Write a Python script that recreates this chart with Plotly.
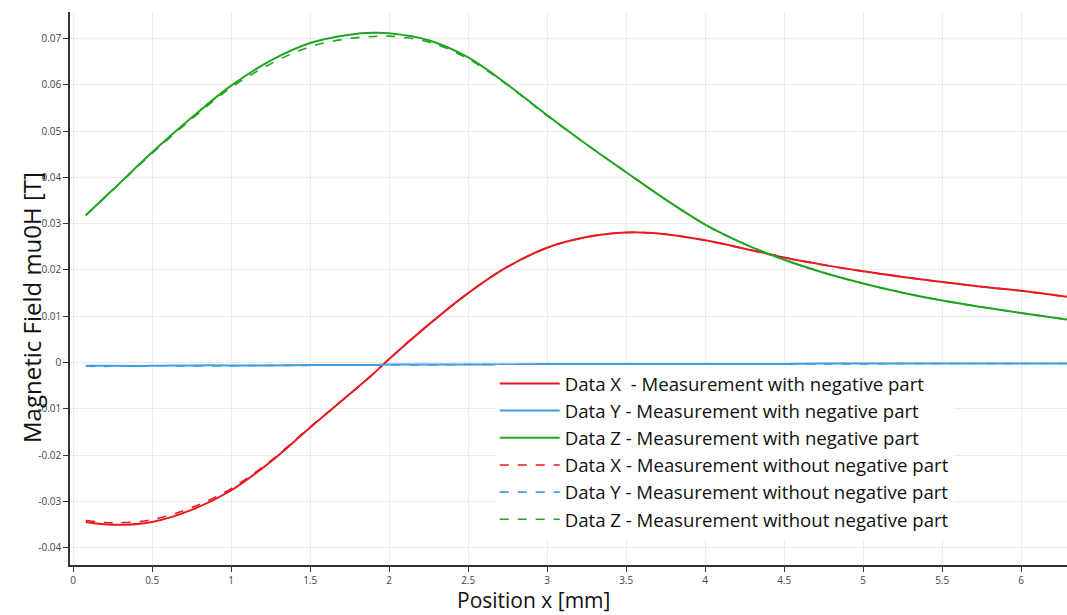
import plotly.graph_objects as go

# Position x [mm]
pos_x = [0.08, 0.25, 0.5, 0.75, 1.0, 1.25, 1.5, 1.75, 1.9, 2.0, 2.25, 2.5, 2.75,
         3.0, 3.25, 3.5, 3.75, 4.0, 4.25, 4.5, 4.75, 5.0, 5.25, 5.5, 5.75, 6.0, 6.29]

# Measurement with negative part
x_with = [-0.0344, -0.0350, -0.0344, -0.0318, -0.0276, -0.0214, -0.0140, -0.0068, -0.0024,
          0.0008, 0.0082, 0.0150, 0.0207, 0.0248, 0.0271, 0.0281, 0.0277, 0.0264,
          0.0246, 0.0227, 0.0211, 0.0197, 0.0185, 0.0174, 0.0164, 0.0155, 0.0142]
y_with = [-0.0007, -0.0007, -0.0007, -0.0006, -0.0006, -0.0006, -0.0005, -0.0005, -0.0005,
          -0.0004, -0.0004, -0.0004, -0.0004, -0.0003, -0.0003, -0.0003, -0.0003, -0.0003,
          -0.0003, -0.0003, -0.0002, -0.0002, -0.0002, -0.0002, -0.0002, -0.0002, -0.0002]
z_with = [0.0318, 0.0373, 0.0454, 0.0529, 0.0598, 0.0652, 0.0690, 0.0708, 0.0712,
          0.0711, 0.0696, 0.0659, 0.0600, 0.0534, 0.0471, 0.0411, 0.0352, 0.0298,
          0.0256, 0.0222, 0.0194, 0.0171, 0.0151, 0.0134, 0.0120, 0.0107, 0.0093]

# Measurement without negative part
x_without = [-0.0341, -0.0346, -0.0339, -0.0313, -0.0272, -0.0212, -0.0139, -0.0068, -0.0024,
             0.0008, 0.0082, 0.0150, 0.0207, 0.0248, 0.0271, 0.0281, 0.0277, 0.0264,
             0.0246, 0.0227, 0.0211, 0.0197, 0.0185, 0.0174, 0.0164, 0.0155, 0.0142]
y_without = [-0.0008, -0.0008, -0.0007, -0.0007, -0.0007, -0.0006, -0.0006, -0.0005, -0.0005,
             -0.0005, -0.0005, -0.0004, -0.0004, -0.0004, -0.0004, -0.0003, -0.0003, -0.0003,
             -0.0003, -0.0003, -0.0003, -0.0003, -0.0002, -0.0002, -0.0002, -0.0002, -0.0002]
z_without = [0.0318, 0.0372, 0.0452, 0.0526, 0.0594, 0.0645, 0.0682, 0.0700, 0.0704,
             0.0705, 0.0692, 0.0656, 0.0599, 0.0533, 0.0471, 0.0411, 0.0352, 0.0298,
             0.0256, 0.0222, 0.0194, 0.0171, 0.0151, 0.0134, 0.0120, 0.0107, 0.0093]

names = [
    "Data X&nbsp; - Measurement with negative part",
    "Data Y - Measurement with negative part",
    "Data Z - Measurement with negative part",
    "Data X - Measurement without negative part",
    "Data Y - Measurement without negative part",
    "Data Z - Measurement without negative part",
]

RED = "#e8191f"
BLUE = "#3d9ee0"
GREEN = "#1fa51f"

series = [
    (x_with, RED, "solid", 2),
    (y_with, BLUE, "solid", 2),
    (z_with, GREEN, "solid", 2),
    (x_without, RED, "dash", 1.6),
    (y_without, BLUE, "dash", 1.6),
    (z_without, GREEN, "dash", 1.6),
]

fig = go.Figure()
# draw dashed first so solid lines sit on top
order = [3, 4, 5, 0, 1, 2]
for i in order:
    vals, col, dash, w = series[i]
    fig.add_trace(go.Scatter(
        x=pos_x, y=vals, mode="lines", name=names[i],
        line=dict(color=col, dash=dash, width=w, shape="spline", smoothing=1.0),
        legendrank=i + 1,
    ))

fig.update_layout(
    width=1067, height=615,
    margin=dict(l=70, r=0, t=12, b=50),
    paper_bgcolor="white", plot_bgcolor="white",
    font=dict(family="Open Sans, sans-serif", color="#222"),
    showlegend=True,
    legend=dict(
        x=0.426, y=0.362, xanchor="left", yanchor="top",
        bgcolor="white", borderwidth=0,
        font=dict(size=18.6, color="#111", family="Open Sans, sans-serif"),
        itemwidth=60, tracegroupgap=0,
        traceorder="normal",
    ),
    xaxis=dict(
        range=[-0.02, 6.29],
        tickmode="array",
        tickvals=[0, 0.5, 1, 1.5, 2, 2.5, 3, 3.5, 4, 4.5, 5, 5.5, 6],
        ticktext=["0", "0.5", "1", "1.5", "2", "2.5", "3", "3.5", "4", "4.5", "5", "5.5", "6"],
        ticks="outside", ticklen=5, tickcolor="#333",
        showline=True, linecolor="#333", linewidth=1.5,
        showgrid=True, gridcolor="#ececec", zeroline=False,
        tickfont=dict(size=10, color="#444"),
    ),
    yaxis=dict(
        range=[-0.0437, 0.0757],
        tickmode="array",
        tickvals=[-0.04, -0.03, -0.02, -0.01, 0, 0.01, 0.02, 0.03, 0.04, 0.05, 0.06, 0.07],
        ticktext=["-0.04", "-0.03", "-0.02", "-0.01", "0", "0.01", "0.02", "0.03",
                  "0.04", "0.05", "0.06", "0.07"],
        ticks="outside", ticklen=5, tickcolor="#333",
        showline=True, linecolor="#333", linewidth=1.5,
        showgrid=True, gridcolor="#ececec", zeroline=False,
        tickfont=dict(size=10, color="#444"),
    ),
    annotations=[
        dict(text="Position x [mm]", xref="paper", yref="paper",
             x=(533 - 70) / 997, y=-(600 - 565) / 553, xanchor="center", yanchor="middle",
             showarrow=False, font=dict(size=21, color="#111")),
        dict(text="Magnetic Field mu0H [T]", xref="paper", yref="paper", textangle=-90,
             x=-(70 - 31) / 997, y=(565 - 308) / 553, xanchor="center", yanchor="middle",
             showarrow=False, font=dict(size=24, color="#111")),
    ],
)

fig.write_html("out.html")
